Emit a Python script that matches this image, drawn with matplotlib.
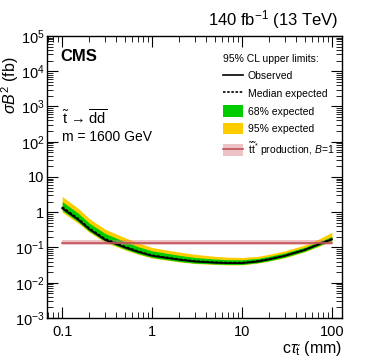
import numpy as np
import matplotlib
matplotlib.use('Agg')
import matplotlib.pyplot as plt
from matplotlib.patches import Patch
from matplotlib.lines import Line2D
from matplotlib.ticker import LogLocator, FixedLocator, NullFormatter

plt.rcParams['font.family'] = ['Liberation Sans', 'DejaVu Sans']
plt.rcParams['mathtext.fontset'] = 'custom'
plt.rcParams['mathtext.rm'] = 'Liberation Sans'
plt.rcParams['mathtext.it'] = 'Liberation Sans:italic'
plt.rcParams['mathtext.bf'] = 'Liberation Sans:bold'

# ctau (mm)
ctau = [0.1, 0.15, 0.2, 0.3, 0.5, 0.7, 1, 2, 3, 5, 7, 10, 15, 20, 30, 50, 70, 100]
observed = [1.3, 0.62, 0.33, 0.165, 0.100, 0.075, 0.058, 0.045, 0.040, 0.037, 0.036,
            0.036, 0.040, 0.046, 0.058, 0.085, 0.12, 0.17]
expected = [1.4, 0.66, 0.35, 0.175, 0.105, 0.078, 0.060, 0.046, 0.041, 0.038, 0.037,
            0.037, 0.041, 0.047, 0.059, 0.087, 0.122, 0.175]
exp68_lo = [1.12, 0.54, 0.29, 0.15, 0.090, 0.067, 0.052, 0.040, 0.036, 0.034, 0.033,
            0.033, 0.037, 0.042, 0.053, 0.078, 0.11, 0.155]
exp68_hi = [2.0, 0.95, 0.49, 0.25, 0.145, 0.105, 0.080, 0.060, 0.052, 0.047, 0.045,
            0.045, 0.049, 0.056, 0.070, 0.102, 0.143, 0.205]
exp95_lo = [1.0, 0.49, 0.27, 0.14, 0.085, 0.064, 0.050, 0.039, 0.035, 0.033, 0.032,
            0.032, 0.036, 0.041, 0.051, 0.075, 0.105, 0.15]
exp95_hi = [2.8, 1.30, 0.66, 0.33, 0.19, 0.135, 0.10, 0.074, 0.064, 0.056, 0.053,
            0.052, 0.056, 0.064, 0.080, 0.118, 0.17, 0.27]

# stop pair production cross section, B=1
theory_x = [0.1, 100]
theory = [0.135, 0.135]
theory_lo = [0.115, 0.115]
theory_hi = [0.16, 0.16]

fig = plt.figure(figsize=(3.74, 3.63), dpi=100)
ax = fig.add_axes([0.126, 0.124, 0.788, 0.777])

ax.fill_between(ctau, exp95_lo, exp95_hi, color='#ffcc00', lw=0)
ax.fill_between(ctau, exp68_lo, exp68_hi, color='#00cc00', lw=0)
ax.plot(ctau, expected, color='black', ls=(0, (1.5, 1)), lw=1.3)
ax.plot(ctau, observed, color='black', lw=1.3)
ax.fill_between(theory_x, theory_lo, theory_hi, color='#d9787e', alpha=0.45, lw=0)
ax.plot(theory_x, theory, color='#c0505a', lw=1.2)

ax.set_xscale('log')
ax.set_yscale('log')
ax.set_xlim(0.068, 129)
ax.set_ylim(1e-3, 1e5)

ax.xaxis.set_major_locator(FixedLocator([0.1, 1, 10, 100]))
ax.set_xticklabels(['0.1', '1', '10', '100'])
ax.xaxis.set_minor_locator(LogLocator(base=10, subs=np.arange(2, 10), numticks=20))
ax.xaxis.set_minor_formatter(NullFormatter())
yt = [1e-3, 1e-2, 1e-1, 1, 10, 1e2, 1e3, 1e4, 1e5]
ax.yaxis.set_major_locator(FixedLocator(yt))
ax.set_yticklabels(['$10^{-3}$', '$10^{-2}$', '$10^{-1}$', '1', '10',
                    '$10^{2}$', '$10^{3}$', '$10^{4}$', '$10^{5}$'])
ax.yaxis.set_minor_locator(LogLocator(base=10, subs=np.arange(2, 10), numticks=20))
ax.yaxis.set_minor_formatter(NullFormatter())
ax.tick_params(which='both', direction='in', top=True, right=True, labelsize=10.5)
ax.tick_params(which='major', length=8, width=0.8)
ax.tick_params(which='minor', length=4, width=0.6)
ax.tick_params(axis='x', pad=5)
ax.tick_params(axis='y', pad=2)
for s in ax.spines.values():
    s.set_linewidth(1.0)

ax.set_ylabel(r'$\sigma \mathit{B}^2$ (fb)', fontsize=11.5, loc='top')
ax.yaxis.set_label_coords(-0.088, 0.926)
ax.set_xlabel(r'c$\tau_{\tilde{\mathrm{t}}}$ (mm)', fontsize=11.5, loc='right', labelpad=0)

fig.text(0.905, 0.915, r'140 fb$^{-1}$ (13 TeV)', ha='right', va='bottom', fontsize=12)
ax.text(0.045, 0.955, 'CMS', transform=ax.transAxes, fontsize=12, fontweight='bold',
        ha='left', va='top')
ax.text(0.05, 0.71, r'$\tilde{\mathrm{t}}$ → $\overline{\mathrm{dd}}$',
        transform=ax.transAxes, fontsize=10.5, ha='left', va='center')
ax.text(0.05, 0.642, 'm = 1600 GeV', transform=ax.transAxes, fontsize=10,
        ha='left', va='center')

handles = [Line2D([], [], color='black', lw=1.2),
           Line2D([], [], color='black', lw=1.2, ls=(0, (1.5, 1))),
           Patch(facecolor='#00cc00', lw=0),
           Patch(facecolor='#ffcc00', lw=0),
           (Patch(facecolor='#d9787e', alpha=0.45, lw=0), Line2D([], [], color='#c0505a', lw=1.2))]
labels = ['Observed', 'Median expected', '68% expected', '95% expected',
          r'$\tilde{\mathrm{t}}\tilde{\mathrm{t}}^{*}$ production, $\mathit{B}$=1']
leg = ax.legend(handles, labels, loc='upper right', bbox_to_anchor=(1.0, 0.962),
                title='95% CL upper limits:', title_fontsize=7.5, fontsize=7.5,
                frameon=False, handlelength=1.9, handleheight=1.3, labelspacing=0.6,
                handletextpad=0.5, borderaxespad=0.3)
leg._legend_box.align = 'left'

fig.savefig('out.png', dpi=100)
